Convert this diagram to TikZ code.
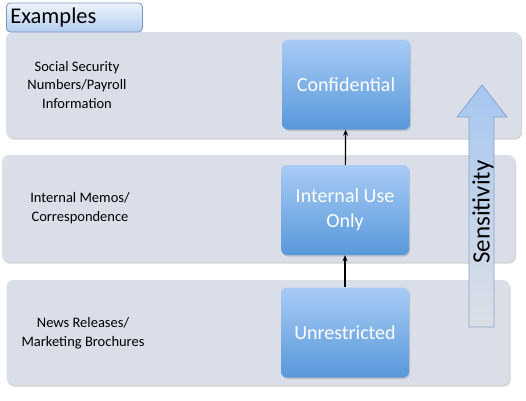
\documentclass[tikz,border=0pt]{standalone}
\usepackage{fontspec}
\setmainfont{Carlito}
\usetikzlibrary{shadows,arrows.meta}

\definecolor{bandgray}{HTML}{D9DEE9}
\definecolor{boxtop}{HTML}{A8CBF5}
\definecolor{boxbot}{HTML}{5898DA}
\definecolor{tabtop}{HTML}{EEF4FC}
\definecolor{tabbot}{HTML}{B3CDF0}
\definecolor{tabline}{HTML}{7C96C2}
\definecolor{arrtop}{HTML}{A6C7F1}
\definecolor{arrbot}{HTML}{DCDFE5}
\definecolor{arrline}{HTML}{8CA3C8}

\begin{document}
\begin{tikzpicture}[x=1pt,y=-1pt,
				      band/.style = {shape=rectangle, rounded corners=7pt,
						      fill=bandgray, draw=none,
						      drop shadow={shadow xshift=1pt, shadow yshift=-1.5pt, opacity=0.35}},
				      level/.style = {shape=rectangle, rounded corners=6pt,
						      top color=boxtop, bottom color=boxbot,
						      text=white, align=center, font=\fontsize{20}{25}\selectfont,
						      minimum width=128pt, minimum height=90pt,
						      drop shadow={shadow xshift=1pt, shadow yshift=-1.5pt, opacity=0.3}},
				      example/.style = {align=center, font=\fontsize{14.5}{18.5}\selectfont},
				      link/.style = {draw, line width=1.2pt, -{Stealth[length=6pt,width=5pt]}}
			      ]
			      \useasboundingbox (0,0) rectangle (526,400);

			      % bands
			      \node[band, minimum width=515pt, minimum height=106pt] (band1) at (263.5,85) {};
			      \node[band, minimum width=513pt, minimum height=107pt] (band2) at (258.5,208.5) {};
			      \node[band, minimum width=503pt, minimum height=105pt] (band3) at (258,332.5) {};

			      % title tab
			      \node[shape=rectangle, rounded corners=4pt, top color=tabtop, bottom color=tabbot,
				      draw=tabline, line width=0.8pt, minimum width=136pt, minimum height=29pt,
				      anchor=west, text width=128pt, align=left, inner sep=4pt,
				      font=\fontsize{22.5}{24}\selectfont] (tab) at (6,17.5) {Examples};

			      % examples
			      \node[example] (ex1) at (77,85) {Social Security\\Numbers/Payroll\\Information};
			      \node[example] (ex2) at (80,208) {Internal Memos/\\Correspondence};
			      \node[example] (ex3) at (83,333) {News Releases/\\Marketing Brochures};

			      % classification levels
			      \node[level] (conf) at (346,84.5) {Confidential};
			      \node[level] (internal) at (345,210) {Internal Use\\Only};
			      \node[level] (unres) at (345,332.5) {Unrestricted};

			      \draw[link] (unres) -- (internal);
			      \draw[link] (internal) -- (conf);

			      % sensitivity arrow
			      \shade[top color=arrtop, bottom color=arrbot, draw=arrline, line width=0.8pt]
				      (469,327) -- (469,117) -- (457,117) -- (482,85) -- (507,117)
				      -- (494,117) -- (494,327) -- cycle;
			      \node[rotate=90, font=\fontsize{25}{28}\selectfont] (sens) at (483,212) {Sensitivity};
		      \end{tikzpicture}
\end{document}
